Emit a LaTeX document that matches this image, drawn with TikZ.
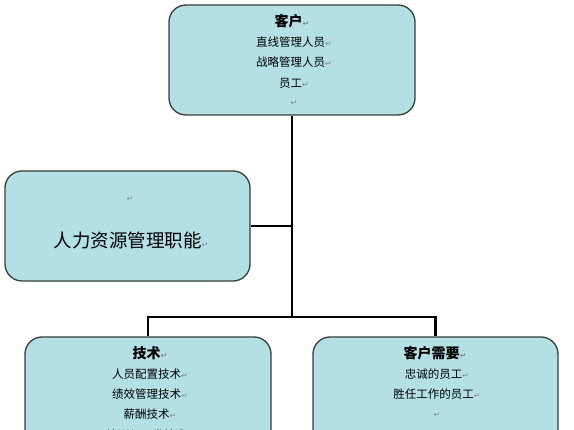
\documentclass[tikz,border=0pt]{standalone}
\usepackage{fontspec}
\newfontfamily\cjk{Noto Sans CJK SC}
\newfontfamily\sym{DejaVu Sans}
\definecolor{boxfill}{RGB}{180,224,228}
\definecolor{boxline}{RGB}{55,60,62}
\definecolor{markgray}{RGB}{130,140,142}
\newcommand{\pmk}{{\sym\fontsize{8}{8}\selectfont\textcolor{markgray}{↵}}}
\begin{document}
\begin{tikzpicture}[x=1pt,y=-1pt,
  hrbox/.style={draw=boxline,line width=1.3pt,fill=boxfill,rounded corners=17pt,
    minimum width=246pt,minimum height=110pt,inner sep=0pt},
  ln/.style={font=\cjk\fontsize{11.5}{12}\selectfont,inner sep=0pt,anchor=center},
  ttl/.style={font=\cjk\bfseries\fontsize{14}{15}\selectfont,inner sep=0pt,anchor=center},
  conn/.style={line width=2.6pt,black}]
\path[use as bounding box,clip] (0,0) rectangle (574,430);
\fill[white] (0,0) rectangle (574,430);
% boxes
\node[hrbox] (top) at (292,60) {};
\node[hrbox,minimum width=245pt] (left) at (127.5,226) {};
\node[hrbox] (bl) at (148,392) {};
\node[hrbox,minimum width=245pt] (br) at (435.5,392) {};
% connectors
\coordinate (jb) at (292,317);
\coordinate (jm) at (292,226);
\draw[conn] (top.south) -- (jb);
\draw[conn] (left.east) -- (jm);
\draw[conn,line cap=butt] (bl.north) |- (jb) -| (br.north);
% top text
\node[ttl] (t0) at (292,21) {客户\pmk};
\node[ln] (t1) at (294,42) {直线管理人员\pmk};
\node[ln] (t2) at (294,62) {战略管理人员\pmk};
\node[ln] (t3) at (294,83) {员工\pmk};
\node[ln] (t4) at (294,103) {\pmk};
% left text
\node[ln] (l0) at (130,199) {\pmk};
\node[font=\cjk\fontsize{18.5}{19}\selectfont,inner sep=0pt] (l1) at (131,240) {人力资源管理职能\pmk};
% bottom-left text
\node[ttl] (b0) at (150,353) {技术\pmk};
\node[ln] (b1) at (150,374) {人员配置技术\pmk};
\node[ln] (b2) at (150,394) {绩效管理技术\pmk};
\node[ln] (b3) at (150,414) {薪酬技术\pmk};
\node[ln] (b4) at (150,435) {培训与开发技术\pmk};
% bottom-right text
\node[ttl] (r0) at (435,353) {客户需要\pmk};
\node[ln] (r1) at (437,374) {忠诚的员工\pmk};
\node[ln] (r2) at (437,394) {胜任工作的员工\pmk};
\node[ln] (r3) at (437,415) {\pmk};
\end{tikzpicture}
\end{document}
